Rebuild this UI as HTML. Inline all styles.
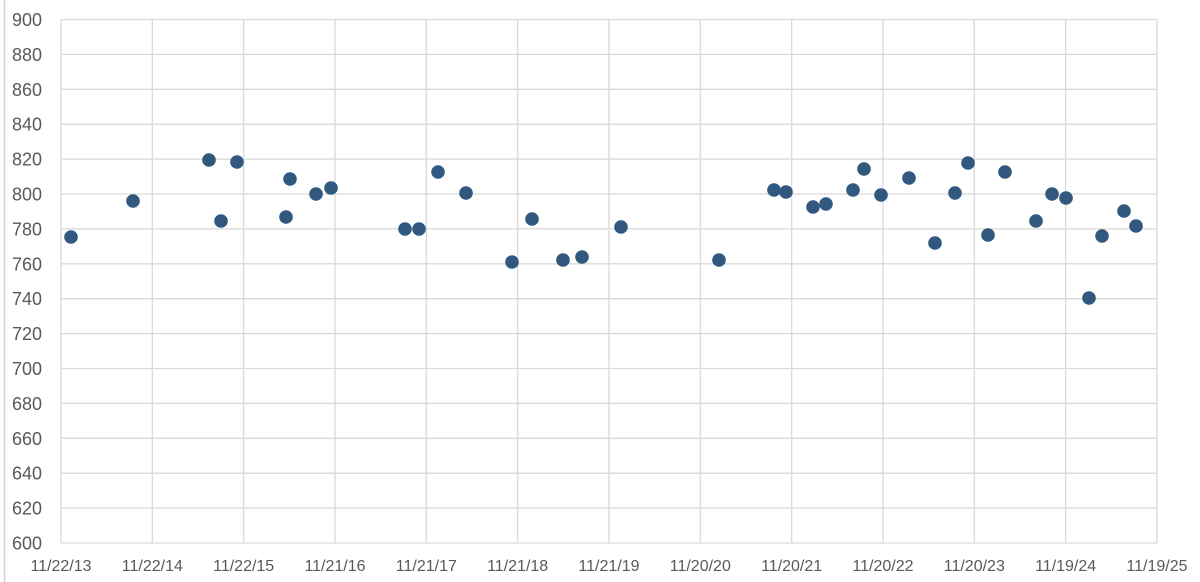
<!DOCTYPE html><html><head><style>body{margin:0;background:#fff}svg{display:block}text{font-family:"Liberation Sans",sans-serif;font-size:16px;fill:#595959}.y{font-size:18px}</style></head><body>
<svg width="1200" height="582" xmlns="http://www.w3.org/2000/svg">
<line x1="4.5" y1="0" x2="4.5" y2="582" stroke="#d0d0d0" stroke-width="1.5"/>
<g id="g" stroke="#d9d9d9" stroke-width="1.3"></g>
<g id="l"></g>
<g id="p" fill="#31597f"></g>
<script>
var g=document.getElementById('g'),l=document.getElementById('l'),p=document.getElementById('p'),ns="http://www.w3.org/2000/svg";
function el(t,a,par,txt){var e=document.createElementNS(ns,t);for(var k in a)e.setAttribute(k,a[k]);if(txt)e.textContent=txt;par.appendChild(e);}
for(var i=0;i<=15;i++){var y=19.5+i*523.5/15;el('line',{x1:61,x2:1157,y1:y,y2:y},g);el('text',{x:42,y:y+6.5,'text-anchor':'end','class':'y'},l,String(900-i*20));}
var xl=["11/22/13","11/22/14","11/22/15","11/21/16","11/21/17","11/21/18","11/21/19","11/20/20","11/20/21","11/20/22","11/20/23","11/19/24","11/19/25"];
for(var i=0;i<13;i++){var x=61+i*91.33;el('line',{x1:x,x2:x,y1:19.5,y2:543},g);el('text',{x:x,y:571,'text-anchor':'middle'},l,xl[i]);}
var pts=[[71,237],[133,201],[209,160],[221,221],[237,162],[286,217],[290,179],[316,194],[331,188],[405,229],[419,229],[438,172],[466,193],[512,262],[532,219],[563,260],[582,257],[621,227],[719,260],[774,190],[786,192],[813,207],[826,204],[853,190],[864,169],[881,195],[909,178],[935,243],[955,193],[968,163],[988,235],[1005,172],[1036,221],[1052,194],[1066,198],[1089,298],[1102,236],[1124,211],[1136,226]];
pts.forEach(function(q){el('circle',{cx:q[0],cy:q[1],r:6.8},p);});
</script>
</svg></body></html>
